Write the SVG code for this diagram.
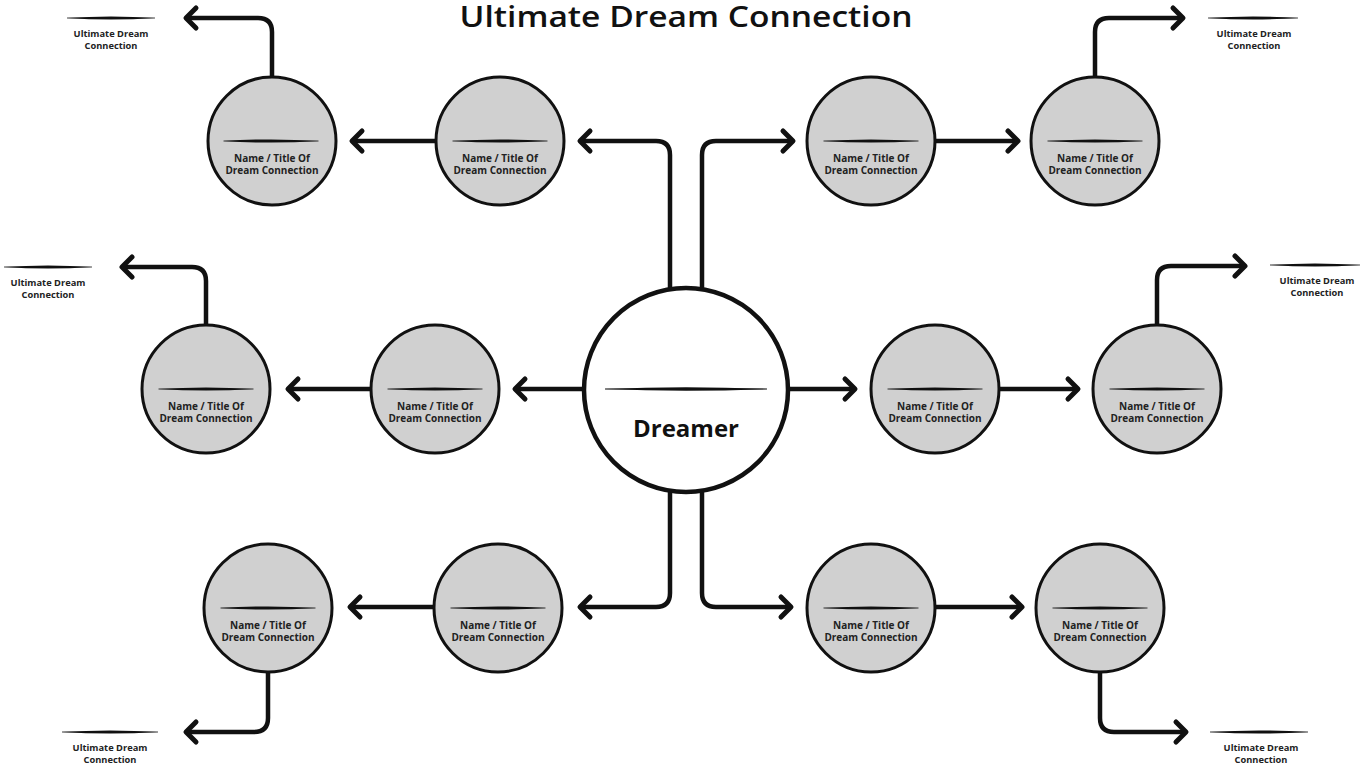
<svg xmlns="http://www.w3.org/2000/svg" xmlns:xlink="http://www.w3.org/1999/xlink" width="1370" height="770" viewBox="0 0 1370 770">
<style>
  .node { fill: #d0d0d0; stroke: #111; stroke-width: 3; }
  .main { fill: #ffffff; stroke: #111; stroke-width: 4.5; }
  .conn { fill: none; stroke: #111; stroke-width: 4.5; stroke-linejoin: round; }
  .lbl { font-family: "Open Sans", "Liberation Sans", sans-serif; font-weight: 700; font-size: 10px; fill: #222; text-anchor: middle; }
  .ult { font-family: "Open Sans", "Liberation Sans", sans-serif; font-weight: 700; font-size: 9.3px; fill: #222; text-anchor: middle; }
  .title { font-family: "Open Sans", "Liberation Sans", sans-serif; font-weight: 600; font-size: 29px; fill: #111; text-anchor: middle; }
  .dreamer { font-family: "Open Sans", "Liberation Sans", sans-serif; font-weight: 700; font-size: 24px; fill: #111; text-anchor: middle; }
  .lens { fill: #111; }
</style>
<defs>
  <marker id="arr" markerUnits="userSpaceOnUse" viewBox="-14 -14 18 28" refX="0" refY="0" markerWidth="18" markerHeight="28" orient="auto" overflow="visible">
    <path d="M-10,-10 L0,0 L-10,10" fill="none" stroke="#111" stroke-width="5" stroke-linecap="round" stroke-linejoin="round"/>
  </marker>
  <g id="lens">
    <path d="M-50,0 Q0,-3.2 50,0 Q0,3.2 -50,0Z"/>
    <path d="M-50,0 H50" stroke="#111" stroke-width="0.8"/>
  </g>
</defs>
<rect width="1370" height="770" fill="#ffffff"/>

<text class="title" x="686" y="27" textLength="453" lengthAdjust="spacingAndGlyphs">Ultimate Dream Connection</text>

<g id="connectors">
  <path class="conn" marker-end="url(#arr)" d="M670,289 V155 Q670,141 656,141 H580"/>
  <path class="conn" marker-end="url(#arr)" d="M702,289 V155 Q702,141 716,141 H793"/>
  <path class="conn" marker-end="url(#arr)" d="M436,141 H352"/>
  <path class="conn" marker-end="url(#arr)" d="M935,141 H1018"/>
  <path class="conn" marker-end="url(#arr)" d="M272,77 V32 Q272,18 258,18 H186"/>
  <path class="conn" marker-end="url(#arr)" d="M1095,77 V32 Q1095,18 1109,18 H1183"/>
  <path class="conn" marker-end="url(#arr)" d="M584,389 H515"/>
  <path class="conn" marker-end="url(#arr)" d="M371,389 H288"/>
  <path class="conn" marker-end="url(#arr)" d="M206,325 V281 Q206,267 192,267 H122"/>
  <path class="conn" marker-end="url(#arr)" d="M788,389 H855"/>
  <path class="conn" marker-end="url(#arr)" d="M999,389 H1078"/>
  <path class="conn" marker-end="url(#arr)" d="M1157,325 V280 Q1157,266 1171,266 H1245"/>
  <path class="conn" marker-end="url(#arr)" d="M670,491 V593 Q670,607 656,607 H580"/>
  <path class="conn" marker-end="url(#arr)" d="M702,491 V593 Q702,607 716,607 H791"/>
  <path class="conn" marker-end="url(#arr)" d="M434,607 H350"/>
  <path class="conn" marker-end="url(#arr)" d="M935,607 H1022"/>
  <path class="conn" marker-end="url(#arr)" d="M268,672 V718 Q268,732 254,732 H186"/>
  <path class="conn" marker-end="url(#arr)" d="M1100,672 V718 Q1100,732 1114,732 H1186"/>
</g>

<g id="dreamer">
  <circle class="main" cx="686" cy="390" r="102"/>
  <use href="#lens" class="lens" transform="translate(686,389) scale(1.62,1.1)"/>
  <text class="dreamer" x="686" y="437">Dreamer</text>
</g>

<g id="node-a1">
  <circle class="node" cx="272" cy="141" r="64"/>
  <use href="#lens" class="lens" transform="translate(271,141) scale(0.95,1)"/>
  <text class="lbl" x="272" y="162">Name / Title Of</text>
  <text class="lbl" x="272" y="174">Dream Connection</text>
</g>
<g id="node-a2">
  <circle class="node" cx="500" cy="141" r="64"/>
  <use href="#lens" class="lens" transform="translate(500,141) scale(0.95,1)"/>
  <text class="lbl" x="500" y="162">Name / Title Of</text>
  <text class="lbl" x="500" y="174">Dream Connection</text>
</g>
<g id="node-a3">
  <circle class="node" cx="871" cy="141" r="64"/>
  <use href="#lens" class="lens" transform="translate(871,141) scale(0.95,1)"/>
  <text class="lbl" x="871" y="162">Name / Title Of</text>
  <text class="lbl" x="871" y="174">Dream Connection</text>
</g>
<g id="node-a4">
  <circle class="node" cx="1095" cy="141" r="64"/>
  <use href="#lens" class="lens" transform="translate(1095,141) scale(0.95,1)"/>
  <text class="lbl" x="1095" y="162">Name / Title Of</text>
  <text class="lbl" x="1095" y="174">Dream Connection</text>
</g>

<g id="node-b1">
  <circle class="node" cx="206" cy="389" r="64"/>
  <use href="#lens" class="lens" transform="translate(206,389) scale(0.95,1)"/>
  <text class="lbl" x="206" y="410">Name / Title Of</text>
  <text class="lbl" x="206" y="422">Dream Connection</text>
</g>
<g id="node-b2">
  <circle class="node" cx="435" cy="389" r="64"/>
  <use href="#lens" class="lens" transform="translate(435,389) scale(0.95,1)"/>
  <text class="lbl" x="435" y="410">Name / Title Of</text>
  <text class="lbl" x="435" y="422">Dream Connection</text>
</g>
<g id="node-b3">
  <circle class="node" cx="935" cy="389" r="64"/>
  <use href="#lens" class="lens" transform="translate(935,389) scale(0.95,1)"/>
  <text class="lbl" x="935" y="410">Name / Title Of</text>
  <text class="lbl" x="935" y="422">Dream Connection</text>
</g>
<g id="node-b4">
  <circle class="node" cx="1157" cy="389" r="64"/>
  <use href="#lens" class="lens" transform="translate(1157,389) scale(0.95,1)"/>
  <text class="lbl" x="1157" y="410">Name / Title Of</text>
  <text class="lbl" x="1157" y="422">Dream Connection</text>
</g>

<g id="node-c1">
  <circle class="node" cx="268" cy="608" r="64"/>
  <use href="#lens" class="lens" transform="translate(268,608) scale(0.95,1)"/>
  <text class="lbl" x="268" y="629">Name / Title Of</text>
  <text class="lbl" x="268" y="641">Dream Connection</text>
</g>
<g id="node-c2">
  <circle class="node" cx="498" cy="608" r="64"/>
  <use href="#lens" class="lens" transform="translate(498,608) scale(0.95,1)"/>
  <text class="lbl" x="498" y="629">Name / Title Of</text>
  <text class="lbl" x="498" y="641">Dream Connection</text>
</g>
<g id="node-c3">
  <circle class="node" cx="871" cy="608" r="64"/>
  <use href="#lens" class="lens" transform="translate(871,608) scale(0.95,1)"/>
  <text class="lbl" x="871" y="629">Name / Title Of</text>
  <text class="lbl" x="871" y="641">Dream Connection</text>
</g>
<g id="node-c4">
  <circle class="node" cx="1100" cy="608" r="64"/>
  <use href="#lens" class="lens" transform="translate(1100,608) scale(0.95,1)"/>
  <text class="lbl" x="1100" y="629">Name / Title Of</text>
  <text class="lbl" x="1100" y="641">Dream Connection</text>
</g>

<g id="ult-tl">
  <use href="#lens" class="lens" transform="translate(111,18) scale(0.88,1)"/>
  <text class="ult" x="111" y="37">Ultimate Dream</text>
  <text class="ult" x="111" y="49">Connection</text>
</g>
<g id="ult-tr">
  <use href="#lens" class="lens" transform="translate(1253,18) scale(0.9,1)"/>
  <text class="ult" x="1254" y="37">Ultimate Dream</text>
  <text class="ult" x="1254" y="49">Connection</text>
</g>
<g id="ult-ml">
  <use href="#lens" class="lens" transform="translate(48,267) scale(0.88,1)"/>
  <text class="ult" x="48" y="286">Ultimate Dream</text>
  <text class="ult" x="48" y="298">Connection</text>
</g>
<g id="ult-mr">
  <use href="#lens" class="lens" transform="translate(1315,265) scale(0.9,1)"/>
  <text class="ult" x="1317" y="284">Ultimate Dream</text>
  <text class="ult" x="1317" y="296">Connection</text>
</g>
<g id="ult-bl">
  <use href="#lens" class="lens" transform="translate(110,732) scale(0.96,1)"/>
  <text class="ult" x="110" y="751">Ultimate Dream</text>
  <text class="ult" x="110" y="763">Connection</text>
</g>
<g id="ult-br">
  <use href="#lens" class="lens" transform="translate(1259,732) scale(0.98,1)"/>
  <text class="ult" x="1261" y="751">Ultimate Dream</text>
  <text class="ult" x="1261" y="763">Connection</text>
</g>
</svg>
